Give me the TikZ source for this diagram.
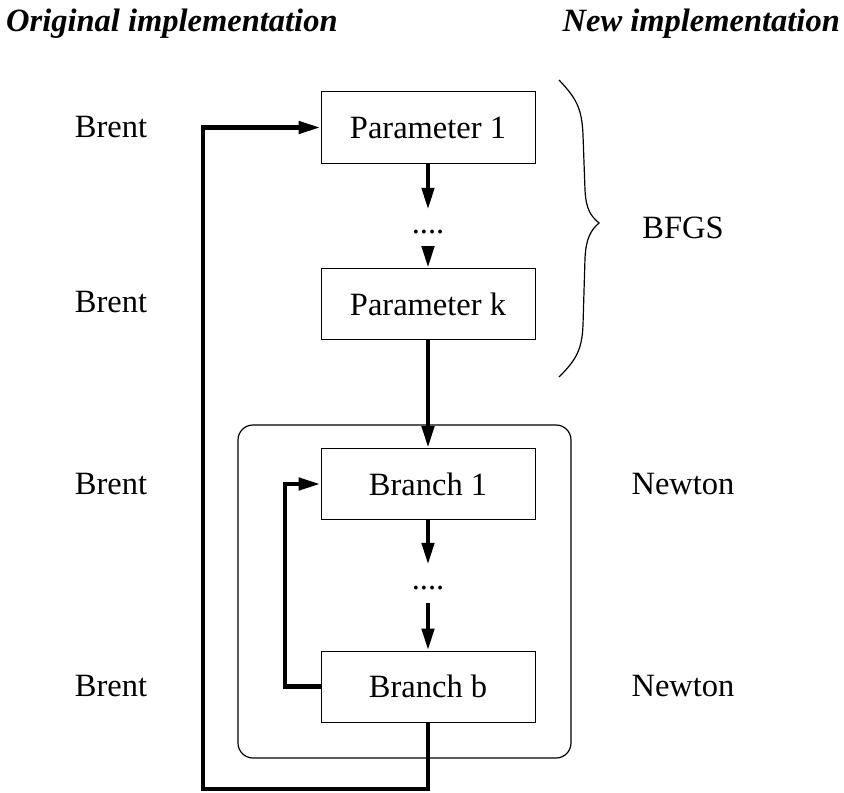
\documentclass[tikz,border=0pt]{standalone}
\usepackage{fontspec}
\setmainfont{Liberation Serif}
\usetikzlibrary{arrows.meta}

\tikzset{
  stepbox/.style={draw, line width=1bp, minimum width=214bp, minimum height=71bp, inner sep=0pt},
  label/.style={inner sep=0pt},
  dotsnode/.style={inner sep=0pt, minimum height=36bp, text height=10bp, text depth=0pt},
  flow/.style={line width=4.5bp, -{Triangle[length=22bp,width=12bp]}},
}

\begin{document}
\begin{tikzpicture}[x=1bp, y=-1bp, font=\fontsize{32.5bp}{39bp}\selectfont]
  \useasboundingbox (0,0) rectangle (844,793);

  % column headings
  \node[label, anchor=base west] (hOrig) at (6,32) {\textbf{\textit{Original implementation}}};
  \node[label, anchor=base east] (hNew) at (840,32) {\textbf{\textit{New implementation}}};

  % group frame around the branch loop
  \draw[line width=1.2bp, rounded corners=15bp] (238,425) rectangle (571,758);

  % boxes
  \node[stepbox] (p1) at (428,127.5) {Parameter 1};
  \node[stepbox] (pk) at (428,304) {Parameter k};
  \node[stepbox] (b1) at (428,484) {Branch 1};
  \node[stepbox] (bb) at (428,686.5) {Branch b};

  % ellipses between boxes
  \node[dotsnode] (d1) at (428,228) {....};
  \node[dotsnode, minimum height=38bp] (d2) at (428,584) {....};

  % left-hand labels
  \node[label] (br1) at (111,127) {Brent};
  \node[label] (br2) at (111,302) {Brent};
  \node[label] (br3) at (111,484) {Brent};
  \node[label] (br4) at (111,686) {Brent};

  % right-hand labels
  \node[label] (bfgs) at (683,228) {BFGS};
  \node[label] (nw1) at (683,484) {Newton};
  \node[label] (nw2) at (683,686) {Newton};

  % brace grouping the parameters
  \draw[line width=1.2bp] (559,80)
    .. controls (576,98) and (582,108) .. (583,135)
    -- (585,190)
    .. controls (586,210) and (591,216) .. (599,223)
    .. controls (591,230) and (586,238) .. (585,258)
    -- (583,325)
    .. controls (582,350) and (576,360) .. (559,377);

  % vertical flow
  \draw[flow] (p1.south) -- (d1.north);
  \draw[flow] (d1.south) -- (pk.north);
  \draw[flow] (pk.south) -- (b1.north);
  \draw[flow] (b1.south) -- (d2.north);
  \draw[flow] (d2.south) -- (bb.north);

  % inner loop over branches
  \coordinate (innerL) at (285,686.5);
  \draw[flow] (bb.west) -- (innerL) |- (b1.west);

  % outer loop back to the first parameter
  \coordinate (outerL) at (203,789);
  \draw[flow] (bb.south) |- (outerL) |- (p1.west);
\end{tikzpicture}
\end{document}
